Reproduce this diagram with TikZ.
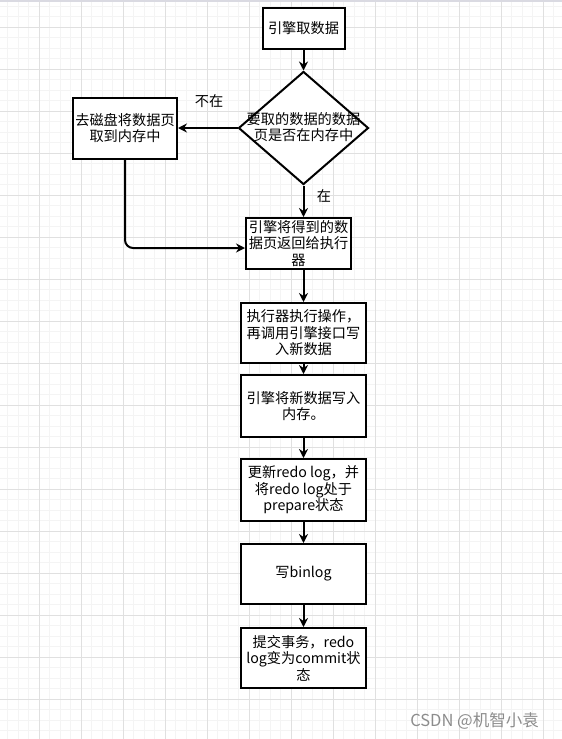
\documentclass[tikz,border=0pt]{standalone}
\usepackage{fontspec}
\setmainfont{Noto Sans CJK SC}
\usetikzlibrary{arrows.meta,shapes.geometric}
\definecolor{gridminor}{RGB}{244,244,244}
\definecolor{gridmajor}{RGB}{224,224,224}
\definecolor{topbar}{RGB}{218,218,226}
\definecolor{markgray}{RGB}{140,140,140}

\begin{document}
\begin{tikzpicture}[
    x=1pt, y=-1pt,
    font=\fontsize{14.2}{16.5}\selectfont,
    flow box/.style={
        draw=black, fill=white, line width=2pt,
        minimum width=125pt, minimum height=61pt,
        align=center, inner sep=0pt
    },
    decision/.style={
        diamond, draw=black, fill=white, line width=2pt,
        minimum width=130pt, minimum height=113pt, inner sep=0pt
    },
    flow arrow/.style={-{Stealth[length=9pt,width=9pt,inset=3pt]}, line width=2pt}
]
    \useasboundingbox (0,0) rectangle (562,739);

    % background grid
    \foreach \i in {0,...,54}
        \draw[gridminor, line width=1pt] ({-2.7+10.5*\i},0) -- ({-2.7+10.5*\i},739);
    \foreach \i in {0,...,72}
        \draw[gridminor, line width=1pt] (0,{-14.7+10.5*\i}) -- (562,{-14.7+10.5*\i});
    \foreach \i in {0,...,14}
        \draw[gridmajor, line width=1pt] ({-2.7+42*\i},0) -- ({-2.7+42*\i},739);
    \foreach \i in {0,...,18}
        \draw[gridmajor, line width=1pt] (0,{-14.7+42*\i}) -- (562,{-14.7+42*\i});
    \fill[topbar] (0,0) rectangle (562,2);

    \node[flow box, minimum width=82pt, minimum height=41pt] (take) at (303.5,28.5)
        {引擎取数据};
    \node[decision] (check) at (303.5,128) {};
    \node[align=center] (checktext) at (303.5,127)
        {要取的数据的数据\\页是否在内存中};
    \node[flow box, minimum width=104pt, minimum height=61pt] (disk) at (125,128)
        {去磁盘将数据页\\取到内存中};
    \node[flow box, minimum width=105pt, minimum height=51pt] (back) at (298.5,243.5)
        {引擎将得到的数\\据页返回给执行\\器};
    \node[flow box, minimum height=60pt] (exec) at (303.5,333)
        {执行器执行操作，\\再调用引擎接口写\\入新数据};
    \node[flow box, minimum height=62pt] (write) at (303.5,406)
        {引擎将新数据写入\\内存。};
    \node[flow box, minimum height=62pt] (redo) at (303.5,490)
        {更新redo log，并\\将redo log处于\\prepare状态};
    \node[flow box, minimum height=60pt] (binlog) at (303.5,574)
        {写binlog};
    \node[flow box, minimum height=60pt] (commit) at (303.5,658)
        {提交事务，redo\\log变为commit状\\态};

    \draw[flow arrow] (take) -- (check);
    \draw[flow arrow] (check) -- (disk);
    \node (no) at (209,101) {不在};
    \draw[flow arrow] (check.south) -- (check.south |- back.north);
    \node (yes) at (324,196) {在};
    \draw[flow arrow, rounded corners=8pt] (disk.south) |- ([yshift=-4.5pt]back.west);
    \draw[flow arrow] (back.south -| exec.north) -- (exec);
    \draw[flow arrow] (exec) -- (write);
    \draw[flow arrow] (write) -- (redo);
    \draw[flow arrow] (redo) -- (binlog);
    \draw[flow arrow] (binlog) -- (commit);

    \node[text=markgray, font=\fontsize{16.5}{19}\selectfont] (mark) at (474.5,721)
        {CSDN @机智小袁};
\end{tikzpicture}
\end{document}
